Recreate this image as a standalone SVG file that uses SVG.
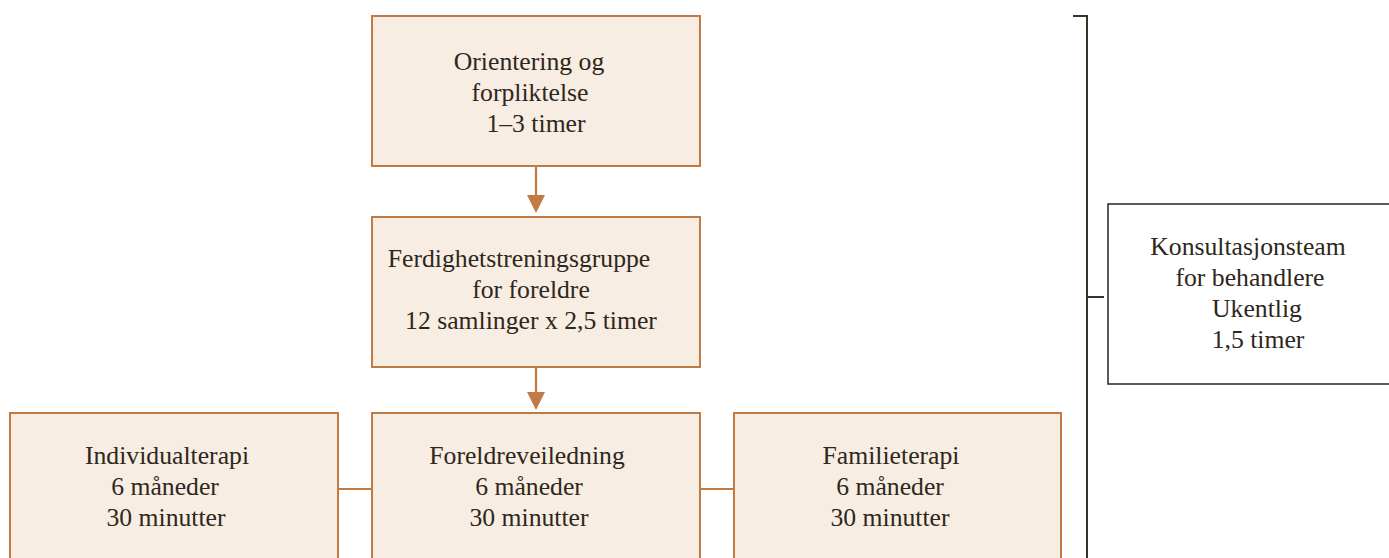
<svg xmlns="http://www.w3.org/2000/svg" width="1389" height="558" viewBox="0 0 1389 558">
<defs>
<style>
.box{fill:#f8ede2;stroke:#c27a45;stroke-width:2}
.dbox{fill:#ffffff;stroke:#3a3129;stroke-width:1.6}
.t{font-family:"Liberation Serif",serif;font-size:25.7px;fill:#2e2720;text-anchor:middle}
.c{stroke:#c27a45;stroke-width:2.2;fill:none}
.d{stroke:#3a3129;stroke-width:2;fill:none}
</style>
</defs>
<rect width="1389" height="558" fill="#ffffff"/>
<g id="connectors">
<line class="c" x1="536" y1="166" x2="536" y2="200"/>
<path d="M527,195 L545,195 L536,213 Z" fill="#c27a45"/>
<line class="c" x1="536" y1="367" x2="536" y2="397"/>
<path d="M527,392 L545,392 L536,410 Z" fill="#c27a45"/>
<line class="c" x1="338" y1="489" x2="372" y2="489"/>
<line class="c" x1="700" y1="489" x2="734" y2="489"/>
<path class="d" d="M1073,16 L1087,16 L1087,558"/>
<line class="d" x1="1087" y1="297" x2="1104" y2="297"/>
</g>
<g id="orientering">
<rect class="box" x="372" y="16" width="328" height="150"/>
<text class="t" x="529" y="70">Orientering og</text>
<text class="t" x="530" y="101">forpliktelse</text>
<text class="t" x="536" y="132">1–3 timer</text>
</g>
<g id="ferdighet">
<rect class="box" x="372" y="217" width="328" height="150"/>
<text class="t" x="519" y="267">Ferdighetstreningsgruppe</text>
<text class="t" x="531" y="298">for foreldre</text>
<text class="t" x="531" y="329">12 samlinger x 2,5 timer</text>
</g>
<g id="individual">
<rect class="box" x="10" y="413" width="328" height="160"/>
<text class="t" x="167" y="464">Individualterapi</text>
<text class="t" x="165" y="495">6 måneder</text>
<text class="t" x="166" y="526">30 minutter</text>
</g>
<g id="foreldre">
<rect class="box" x="372" y="413" width="328" height="160"/>
<text class="t" x="527" y="464">Foreldreveiledning</text>
<text class="t" x="529" y="495">6 måneder</text>
<text class="t" x="529" y="526">30 minutter</text>
</g>
<g id="familie">
<rect class="box" x="734" y="413" width="327" height="160"/>
<text class="t" x="891" y="464">Familieterapi</text>
<text class="t" x="890" y="495">6 måneder</text>
<text class="t" x="890" y="526">30 minutter</text>
</g>
<g id="konsultasjon">
<rect class="dbox" x="1108" y="204" width="290" height="180"/>
<text class="t" x="1248" y="255">Konsultasjonsteam</text>
<text class="t" x="1250" y="286">for behandlere</text>
<text class="t" x="1257" y="317">Ukentlig</text>
<text class="t" x="1258" y="348">1,5 timer</text>
</g>
</svg>
